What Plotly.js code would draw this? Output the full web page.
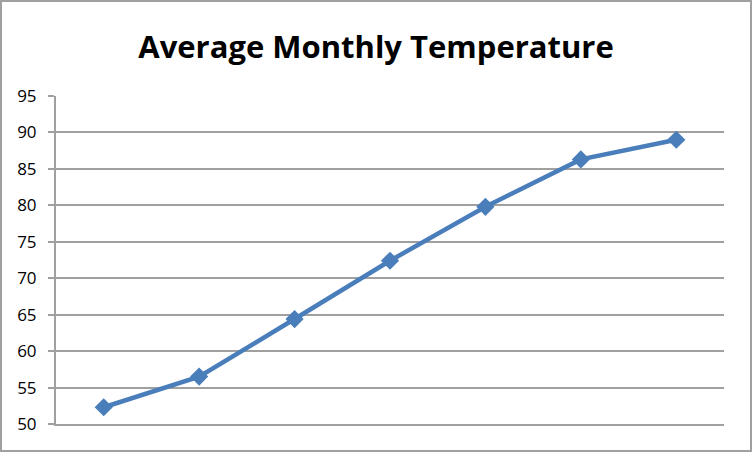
<!DOCTYPE html>
<html>
<head>
<meta charset="utf-8">
<script src="https://cdn.plot.ly/plotly-3.0.1.min.js"></script>
<style>
html,body{margin:0;padding:0;background:#fff;}
#wrap{position:relative;width:752px;height:452px;}
#chart{width:752px;height:452px;}
#border{position:absolute;left:0;top:0;width:752px;height:452px;box-sizing:border-box;border:2px solid #a0a0a0;pointer-events:none;}
</style>
</head>
<body>
<div id="wrap"><div id="chart"></div><div id="border"></div></div>
<script>
const categories = ["Jan", "Feb", "Mar", "Apr", "May", "Jun", "Jul"];
const temperatures = [52.3, 56.5, 64.4, 72.4, 79.8, 86.3, 89.0];
const yTicks = [50, 55, 60, 65, 70, 75, 80, 85, 90, 95];

const trace = {
  x: categories,
  y: temperatures,
  type: "scatter",
  mode: "lines+markers",
  line: {color: "#4a7ebb", width: 4.5},
  marker: {symbol: "diamond", size: 14, color: "#4a7ebb"},
  hoverinfo: "none"
};

const layout = {
  width: 752,
  height: 452,
  margin: {l: 56, r: 28, t: 95.5, b: 28, pad: 0},
  paper_bgcolor: "#ffffff",
  plot_bgcolor: "#ffffff",
  showlegend: false,
  title: {
    text: "<b>Average Monthly Temperature</b>",
    font: {family: "Open Sans, Liberation Sans, sans-serif", size: 31, color: "#000000"},
    x: 0.5, xanchor: "center",
    y: 1 - 47/452, yanchor: "middle", yref: "container"
  },
  xaxis: {
    type: "category",
    range: [-0.5, 6.5],
    showticklabels: false,
    showgrid: false,
    zeroline: false,
    showline: true,
    linecolor: "#a0a0a0",
    linewidth: 2,
    ticks: "",
    fixedrange: true
  },
  yaxis: {
    range: [50, 95],
    tickvals: yTicks,
    ticktext: yTicks.map(String),
    showgrid: true,
    gridcolor: "#a0a0a0",
    gridwidth: 2,
    zeroline: false,
    showline: true,
    linecolor: "#a0a0a0",
    linewidth: 2,
    ticks: "outside",
    ticklen: 6,
    tickwidth: 2,
    tickcolor: "#a0a0a0",
    ticklabelstandoff: 8,
    tickfont: {family: "Open Sans, Liberation Sans, sans-serif", size: 17, color: "#000000"},
    fixedrange: true
  }
};

Plotly.newPlot("chart", [trace], layout, {staticPlot: true, displayModeBar: false});
</script>
</body>
</html>
